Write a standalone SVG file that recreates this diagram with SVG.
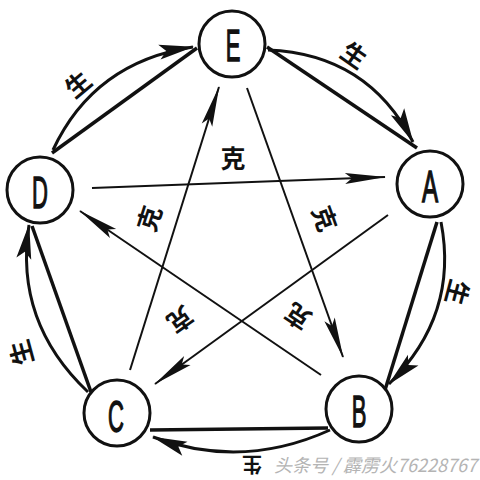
<svg xmlns="http://www.w3.org/2000/svg" width="480" height="480" viewBox="0 0 480 480">
<style>
.bg{fill:#ffffff}
.node circle{fill:#ffffff;stroke:#111;stroke-width:3}
.node text{font-family:"Liberation Sans",Arial,sans-serif;font-size:44px;fill:#111;stroke:#111;stroke-width:1.4;text-anchor:middle}
.side{fill:none;stroke:#111;stroke-width:3.5}
.arc{fill:none;stroke:#111;stroke-width:3}
.star{fill:none;stroke:#111;stroke-width:2}
.lbl{font-family:"Noto Sans CJK SC","Noto Sans CJK JP",sans-serif;font-size:25px;font-weight:bold;fill:#111;text-anchor:middle;dominant-baseline:central}
.wm{font-family:"Noto Sans CJK SC","Liberation Sans",sans-serif;font-size:18px;fill:#b4b4b4;font-style:italic}
</style>
<defs>
<marker id="ah" viewBox="-42 -7 44 14" refX="0" refY="0" markerWidth="44" markerHeight="14" markerUnits="userSpaceOnUse" orient="auto">
<path d="M1,0 L-40,-5.5 L-33,0 L-40,5.5 Z" fill="#111"/>
</marker>
<marker id="ahc" viewBox="-38 -9 40 18" refX="0" refY="0" markerWidth="40" markerHeight="18" markerUnits="userSpaceOnUse" orient="auto">
<path d="M1,0 L-34,-7.5 L-27,0 L-34,7.5 Z" fill="#111"/>
</marker>
</defs>
<rect class="bg" x="0" y="0" width="480" height="480"/>
<g id="connectors">
<path class="side" d="M52,153 L197,48"/>
<path class="side" d="M267,47 L417,148"/>
<path class="side" d="M437,222 L385,390"/>
<path class="side" d="M328,428 L150,430"/>
<path class="side" d="M91,392 L32,226"/>
<path class="arc" d="M53,150 Q94,62 193,47" marker-end="url(#ahc)"/>
<path class="arc" d="M268,50 Q368,54 413,142" marker-end="url(#ahc)"/>
<path class="arc" d="M441,222 Q459,315 389,384" marker-end="url(#ahc)"/>
<path class="arc" d="M330,430 Q242,470 153,437" marker-end="url(#ahc)"/>
<path class="arc" d="M88,392 Q14,322 29,225" marker-end="url(#ahc)"/>
<path class="star" d="M92,188 L385,177" marker-end="url(#ah)"/>
<path class="star" d="M388,215 L155,384" marker-end="url(#ah)"/>
<path class="star" d="M130,370 L219,87" marker-end="url(#ah)"/>
<path class="star" d="M247,88 L343,357" marker-end="url(#ah)"/>
<path class="star" d="M321,375 L80,211" marker-end="url(#ah)"/>
<text class="lbl" transform="translate(77,83) rotate(-40)">生</text>
<text class="lbl" transform="translate(355,54) rotate(35)">生</text>
<text class="lbl" transform="translate(459,293) rotate(105)">生</text>
<text class="lbl" transform="translate(20,353) rotate(-105)">生</text>
<text class="lbl" style="font-size:20px" transform="translate(252,465) rotate(180)">生</text>
<text class="lbl" transform="translate(233,157)">克</text>
<text class="lbl" transform="translate(148,218) rotate(-72)">克</text>
<text class="lbl" transform="translate(326,218) rotate(70)">克</text>
<text class="lbl" transform="translate(297,318) rotate(214)">克</text>
<text class="lbl" transform="translate(181,321) rotate(144)">克</text>
</g>
<g id="E" class="node"><circle cx="232" cy="44" r="33"/><text transform="translate(233,61) scale(0.5,1)">E</text></g>
<g id="A" class="node"><circle cx="430" cy="184" r="33"/><text transform="translate(430,202) scale(0.55,1)">A</text></g>
<g id="B" class="node"><circle cx="359" cy="409" r="33"/><text transform="translate(359,427) scale(0.5,1)">B</text></g>
<g id="C" class="node"><circle cx="117" cy="413" r="33"/><text transform="translate(116,432) scale(0.5,1)">C</text></g>
<g id="D" class="node"><circle cx="40" cy="190" r="33"/><text transform="translate(40,208) scale(0.5,1)">D</text></g>
<text class="wm" x="274" y="472">头条号 / 霹雳火76228767</text>
</svg>
